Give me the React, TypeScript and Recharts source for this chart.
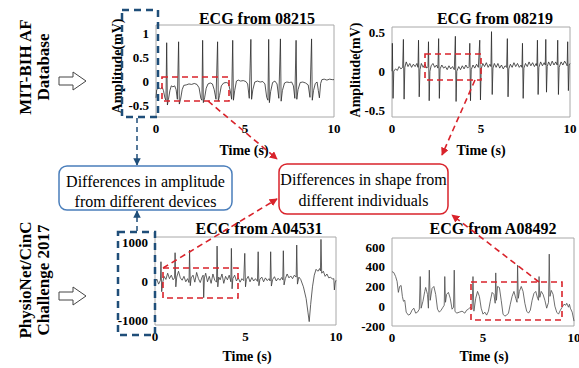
import { useMemo } from 'react';
import { LineChart, Line, XAxis, YAxis, ReferenceArea } from 'recharts';

const SERIF = '"Liberation Serif", "Times New Roman", serif';

const timeTicks = [0, 5, 10];
const ticks08215 = [-0.5, 0, 0.5, 1];
const ticks08219 = [-0.5, 0, 0.5];
const ticksA04531 = [-1000, 0, 1000];
const ticksA08492 = [-200, 0, 200, 400, 600];

// [time (s), amplitude]
const ecg08215: [number, number][] = [
  [0, -0.35], [0.04, -0.18], [0.15, -0.14], [0.25, -0.16], [0.35, -0.13], [0.42, -0.2], [0.5, -0.35], [0.56, -0.4],
  [0.6, 0.8], [0.64, -0.5], [0.7, -0.38], [0.78, -0.2], [0.86, -0.1], [0.95, -0.12], [1.05, -0.1], [1.13, -0.18],
  [1.2, -0.38], [1.27, 0.82], [1.31, -0.48], [1.38, -0.38], [1.47, -0.18], [1.56, -0.09], [1.7, -0.08], [1.85, -0.06],
  [2.0, -0.07], [2.15, -0.05], [2.3, -0.07], [2.42, -0.14], [2.52, -0.36], [2.58, -0.4], [2.62, 0.85], [2.66, -0.45],
  [2.73, -0.35], [2.82, -0.15], [2.92, -0.06], [3.05, -0.04], [3.17, -0.06], [3.27, -0.18], [3.37, -0.38], [3.46, 0.82],
  [3.5, -0.42], [3.57, -0.3], [3.67, -0.1], [3.8, -0.04], [3.95, -0.03], [4.07, -0.05], [4.17, -0.2], [4.25, -0.38],
  [4.31, 0.85], [4.35, -0.4], [4.42, -0.2], [4.52, 0.0], [4.62, 0.02], [4.75, 0.0], [4.9, 0.01], [5.05, -0.01],
  [5.15, -0.06], [5.24, -0.36], [5.33, 0.87], [5.37, -0.38], [5.44, -0.18], [5.55, -0.02], [5.7, 0.0], [5.85, -0.02],
  [6.0, -0.01], [6.12, -0.06], [6.22, -0.34], [6.29, -0.4], [6.33, 0.87], [6.37, -0.45], [6.44, -0.22], [6.55, -0.03],
  [6.68, 0.0], [6.8, -0.06], [6.9, -0.36], [6.99, 0.88], [7.03, -0.42], [7.1, -0.2], [7.22, -0.04], [7.35, -0.02],
  [7.5, -0.03], [7.62, -0.02], [7.72, -0.1], [7.8, -0.36], [7.87, 0.85], [7.91, -0.38], [7.98, -0.18], [8.1, -0.03],
  [8.25, -0.02], [8.4, -0.04], [8.55, -0.08], [8.65, -0.34], [8.74, 0.88], [8.78, -0.4], [8.85, -0.2], [8.95, -0.05],
  [9.05, -0.02], [9.12, -0.2], [9.18, -0.35], [9.25, -0.05], [9.32, 0.03], [9.45, 0.04], [9.6, 0.02], [9.75, 0.04],
  [9.9, 0.03], [10, 0.03],
];

const ecg08219: [number, number][] = [
  [0, 0.0], [0.02, 0.36], [0.06, -0.35], [0.1, 0.0], [0.2, 0.03], [0.3, 0.01], [0.4, 0.06], [0.5, 0.03], [0.6, 0.05],
  [0.64, 0.41], [0.68, -0.36], [0.72, 0.05], [0.8, 0.12], [0.9, 0.06], [1.0, 0.1], [1.1, 0.05], [1.2, 0.09], [1.3, 0.06],
  [1.4, 0.1], [1.46, 0.05], [1.49, 0.4], [1.53, -0.33], [1.57, 0.02], [1.65, 0.1], [1.75, 0.05], [1.85, 0.09],
  [1.95, 0.04], [2.02, 0.06], [2.05, 0.38], [2.09, -0.38], [2.13, 0.0], [2.2, 0.07], [2.3, 0.1], [2.4, 0.05],
  [2.5, 0.08], [2.58, 0.04], [2.62, 0.42], [2.66, -0.35], [2.7, 0.03], [2.8, 0.08], [2.9, 0.04], [3.0, 0.06],
  [3.1, 0.02], [3.2, 0.07], [3.3, 0.03], [3.4, 0.06], [3.5, 0.02], [3.56, 0.45], [3.6, -0.39], [3.64, 0.0],
  [3.75, 0.06], [3.85, 0.02], [3.95, 0.07], [4.05, 0.03], [4.15, 0.08], [4.25, 0.04], [4.33, 0.06], [4.37, 0.36],
  [4.41, -0.38], [4.45, 0.02], [4.55, 0.08], [4.65, 0.04], [4.75, 0.09], [4.85, 0.05], [4.93, 0.4], [4.97, -0.37],
  [5.01, 0.03], [5.1, 0.1], [5.2, 0.06], [5.3, 0.11], [5.4, 0.05], [5.5, 0.09], [5.56, 0.06], [5.59, 0.51],
  [5.63, -0.3], [5.67, 0.04], [5.75, 0.1], [5.85, 0.05], [5.95, 0.1], [6.05, 0.04], [6.15, 0.08], [6.25, 0.03],
  [6.35, 0.07], [6.44, 0.05], [6.48, 0.42], [6.52, -0.33], [6.56, 0.03], [6.65, 0.09], [6.75, 0.05], [6.85, 0.11],
  [6.95, 0.06], [7.05, 0.1], [7.15, 0.05], [7.25, 0.08], [7.3, 0.05], [7.33, 0.36], [7.37, -0.35], [7.41, 0.04],
  [7.5, 0.1], [7.6, 0.06], [7.7, 0.12], [7.8, 0.07], [7.9, 0.11], [8.0, 0.06], [8.1, 0.1], [8.14, 0.07], [8.17, 0.4],
  [8.21, -0.3], [8.25, 0.05], [8.35, 0.12], [8.45, 0.07], [8.55, 0.11], [8.61, 0.08], [8.64, 0.41], [8.68, -0.27],
  [8.72, 0.06], [8.8, 0.12], [8.9, 0.07], [9.0, 0.13], [9.1, 0.08], [9.2, 0.12], [9.28, 0.08], [9.31, 0.4],
  [9.35, -0.3], [9.39, 0.05], [9.5, 0.12], [9.6, 0.08], [9.7, 0.13], [9.8, 0.09], [9.84, 0.07], [9.87, 0.38],
  [9.91, -0.25], [9.95, 0.08], [10, 0.1],
];

const ecgA04531: [number, number][] = [
  [0, -30], [0.1, 50], [0.2, -80], [0.3, 20], [0.33, 495], [0.37, -274], [0.42, -50], [0.5, 120], [0.6, 40], [0.7, 200],
  [0.8, 60], [0.9, 150], [1.0, 30], [1.08, 80], [1.11, 726], [1.15, -150], [1.2, 100], [1.3, 250], [1.4, 80], [1.5, 20],
  [1.6, 120], [1.7, -20], [1.8, 60], [1.88, -40], [1.91, 795], [1.95, -120], [2.0, 80], [2.1, 150], [2.2, -30],
  [2.3, 220], [2.4, 60], [2.5, -40], [2.6, 100], [2.66, 150], [2.69, -428], [2.73, 80], [2.8, 200], [2.9, -20],
  [3.0, 120], [3.1, -60], [3.2, 180], [3.3, 20], [3.4, -30], [3.43, 897], [3.47, -150], [3.52, 100], [3.6, 30],
  [3.7, 180], [3.8, -60], [3.9, 120], [4.0, 30], [4.1, 150], [4.19, -20], [4.22, 838], [4.26, -200], [4.3, 60],
  [4.4, 150], [4.5, 0], [4.6, 80], [4.7, -30], [4.8, 60], [4.9, 10], [4.96, 710], [5.0, -150], [5.05, 40], [5.15, 120],
  [5.25, -20], [5.35, 90], [5.45, 0], [5.55, 60], [5.66, -10], [5.7, 751], [5.74, -120], [5.8, 50], [5.9, 100],
  [6.0, -20], [6.1, 80], [6.2, 10], [6.3, 60], [6.36, 0], [6.39, 751], [6.43, -130], [6.5, 40], [6.6, 110], [6.7, 0],
  [6.8, 70], [6.9, 20], [7.0, 90], [7.06, 30], [7.09, 777], [7.13, -100], [7.2, 60], [7.3, 180], [7.4, 80], [7.5, 130],
  [7.6, 60], [7.7, 150], [7.8, 100], [7.83, 923], [7.87, -80], [7.95, 100], [8.05, 40], [8.2, -150], [8.35, -450],
  [8.45, -800], [8.52, -1043], [8.6, -600], [8.7, -150], [8.8, 150], [8.9, 300], [9.0, 250], [9.1, 320], [9.14, 260],
  [9.17, 1069], [9.21, 200], [9.3, 250], [9.4, 120], [9.5, 180], [9.6, 80], [9.7, 100], [9.8, 50], [9.88, 60],
  [9.91, -230], [9.95, -50], [10, 20],
];

const ecgA08492: [number, number][] = [
  [0, 350], [0.1, 340], [0.2, 300], [0.28, 250], [0.35, 140], [0.42, 200], [0.5, 210], [0.57, 100], [0.63, 50],
  [0.7, 60], [0.78, -60], [0.9, -90], [1.0, -80], [1.1, -40], [1.2, -20], [1.3, -70], [1.4, -60], [1.5, -30],
  [1.55, 300], [1.6, -20], [1.7, 50], [1.8, 150], [1.85, 190], [1.95, 120], [2.0, -20], [2.05, 365], [2.1, 60],
  [2.2, 180], [2.3, 200], [2.4, 120], [2.5, -30], [2.6, -60], [2.7, -40], [2.8, -10], [2.87, 10], [2.9, 300],
  [2.94, 40], [3.0, 120], [3.1, 140], [3.2, 80], [3.3, -30], [3.38, -10], [3.42, 365], [3.46, -50], [3.55, -70],
  [3.7, -60], [3.85, -50], [4.0, -70], [4.1, -40], [4.2, -30], [4.3, -10], [4.4, -30], [4.45, 300], [4.5, -50],
  [4.6, 80], [4.7, 150], [4.8, 100], [4.9, -20], [5.0, -80], [5.1, -60], [5.2, -90], [5.3, -50], [5.4, 50],
  [5.5, 140], [5.6, 120], [5.67, 30], [5.7, 337], [5.74, 60], [5.8, 200], [5.9, 190], [6.0, 60], [6.1, -80],
  [6.2, -100], [6.3, -90], [6.4, -70], [6.5, 20], [6.6, 100], [6.7, 150], [6.8, 80], [6.87, 40], [6.9, 415],
  [6.94, 80], [7.0, 150], [7.1, 200], [7.2, 150], [7.3, 30], [7.4, -50], [7.5, -70], [7.6, -40], [7.7, 60],
  [7.8, 130], [7.9, 150], [8.0, 80], [8.05, 60], [8.08, 300], [8.12, 90], [8.2, 150], [8.3, 120], [8.4, 60],
  [8.5, -20], [8.6, 40], [8.64, 527], [8.68, 100], [8.75, 160], [8.85, 120], [8.95, 0], [9.05, -60], [9.15, -80],
  [9.25, -40], [9.35, -10], [9.45, 20], [9.55, 10], [9.6, 30], [9.7, -10], [9.75, 20], [9.8, -20], [9.9, -60],
  [10, -150],
];

const tickFont = { fontSize: 13, fontWeight: 'bold', fontFamily: SERIF, fill: '#000' };

interface PanelProps {
  data: [number, number][];
  box: { x: number; y: number; w: number; h: number };
  domain: [number, number];
  yTicks: number[];
  color: string;
}

function EcgPanel({ data, box, domain, yTicks, color }: PanelProps) {
  const rows = useMemo(() => data.map(([t, v]) => ({ t, v })), [data]);
  const yw = 48;
  const xh = 24;
  const pad = 4;
  const padR = 14;
  return (
    <div style={{ position: 'absolute', left: box.x - yw, top: box.y - pad }}>
      <LineChart
        width={yw + box.w + padR}
        height={pad + box.h + xh}
        data={rows}
        margin={{ top: pad, right: padR, bottom: 0, left: 0 }}
      >
        <XAxis
          dataKey="t"
          type="number"
          domain={[0, 10]}
          ticks={timeTicks}
          interval={0}
          height={xh}
          tickSize={0}
          tickMargin={7}
          axisLine={false}
          tick={tickFont}
        />
        <YAxis
          type="number"
          domain={domain}
          ticks={yTicks}
          interval={0}
          width={yw}
          allowDataOverflow
          tickSize={0}
          tickMargin={7}
          axisLine={false}
          tick={tickFont}
        />
        <ReferenceArea x1={0} x2={10} y1={domain[0]} y2={domain[1]} fill="none" stroke="#a8a8a8" strokeWidth={1} />
        <Line type="linear" dataKey="v" stroke={color} strokeWidth={0.8} dot={false} isAnimationActive={false} />
      </LineChart>
    </div>
  );
}

function Txt({ x, y, size, bold, rotate, children }: any) {
  return (
    <div
      style={{
        position: 'absolute',
        left: x,
        top: y,
        transform: `translate(-50%, -50%)${rotate ? ' rotate(-90deg)' : ''}`,
        fontFamily: SERIF,
        fontSize: size,
        fontWeight: bold ? 'bold' : 'normal',
        whiteSpace: 'nowrap',
        lineHeight: 1,
        color: '#000',
      }}
    >
      {children}
    </div>
  );
}

function HollowArrow({ x, y }: { x: number; y: number }) {
  const d = `M${x},${y - 4} L${x + 14},${y - 4} L${x + 14},${y - 9} L${x + 27},${y} L${x + 14},${y + 9} L${x + 14},${y + 4} L${x},${y + 4} Z`;
  return <path d={d} fill="#fff" stroke="#444" strokeWidth={1} />;
}

export default function App() {
  const red = '#d9232b';
  const blue = '#1f4e79';
  return (
    <div style={{ position: 'absolute', left: 0, top: 0, width: 579, height: 368, background: '#fff', overflow: 'hidden' }}>
      <EcgPanel data={ecg08215} box={{ x: 156, y: 25, w: 178, h: 92 }} domain={[-0.75, 1.17]} yTicks={ticks08215} color="#2a2a2a" />
      <EcgPanel data={ecg08219} box={{ x: 392, y: 27, w: 178, h: 90 }} domain={[-0.59, 0.57]} yTicks={ticks08219} color="#2a2a2a" />
      <EcgPanel data={ecgA04531} box={{ x: 155, y: 237, w: 181, h: 88 }} domain={[-1130, 1130]} yTicks={ticksA04531} color="#3a3a3a" />
      <EcgPanel data={ecgA08492} box={{ x: 392, y: 238, w: 182, h: 88 }} domain={[-200, 690]} yTicks={ticksA08492} color="#4a4a4a" />

      <Txt x={257} y={19} size={16} bold>ECG from 08215</Txt>
      <Txt x={495} y={19} size={16} bold>ECG from 08219</Txt>
      <Txt x={259} y={229} size={16} bold>ECG from A04531</Txt>
      <Txt x={493} y={229} size={16} bold>ECG from A08492</Txt>

      <Txt x={244} y={151} size={14} bold>Time (s)</Txt>
      <Txt x={481} y={151} size={14} bold>Time (s)</Txt>
      <Txt x={247} y={357} size={14} bold>Time (s)</Txt>
      <Txt x={484} y={357} size={14} bold>Time (s)</Txt>

      <Txt x={118} y={66} size={14} bold rotate>Amplitude(mV)</Txt>
      <Txt x={356} y={70} size={14} bold rotate>Amplitude(mV)</Txt>

      <Txt x={25} y={67} size={17} bold rotate>MIT-BIH AF</Txt>
      <Txt x={43} y={67} size={17} bold rotate>Database</Txt>
      <Txt x={25} y={280} size={17} bold rotate>PhysioNet/CinC</Txt>
      <Txt x={43} y={280} size={17} bold rotate>Challenge 2017</Txt>

      <svg width={579} height={368} style={{ position: 'absolute', left: 0, top: 0, pointerEvents: 'none' }}>
        <defs>
          <marker id="redHead" viewBox="0 0 10 10" refX="9" refY="5" markerWidth="5" markerHeight="5" orient="auto">
            <path d="M0,0 L10,5 L0,10 Z" fill={red} />
          </marker>
          <marker id="blueHead" viewBox="0 0 10 10" refX="9" refY="5" markerWidth="5" markerHeight="5" orient="auto">
            <path d="M0,0 L10,5 L0,10 Z" fill={blue} />
          </marker>
        </defs>

        <HollowArrow x={59} y={81} />
        <HollowArrow x={59} y={296} />

        {/* amplitude boxes + link */}
        <rect x={122} y={10} width={36} height={107} fill="none" stroke={blue} strokeWidth={2.5} strokeDasharray="7 5" />
        <rect x={118} y={232} width={37} height={103} fill="none" stroke={blue} strokeWidth={2.5} strokeDasharray="7 5" />
        <line x1={137} y1={118} x2={137} y2={165} stroke={blue} strokeWidth={1.5} strokeDasharray="5 4" markerEnd="url(#blueHead)" />
        <line x1={137} y1={231} x2={137} y2={211} stroke={blue} strokeWidth={1.5} strokeDasharray="5 4" markerEnd="url(#blueHead)" />

        {/* shape boxes + links */}
        <rect x={162} y={77} width={67} height={24} fill="none" stroke={red} strokeWidth={1.6} strokeDasharray="6 4" />
        <rect x={425} y={54} width={56} height={26} fill="none" stroke={red} strokeWidth={1.6} strokeDasharray="6 4" />
        <rect x={163} y={268} width={75} height={30} fill="none" stroke={red} strokeWidth={1.6} strokeDasharray="6 4" />
        <rect x={471} y={282} width={91} height={38} fill="none" stroke={red} strokeWidth={1.6} strokeDasharray="6 4" />
        <line x1={208} y1={101} x2={277} y2={159} stroke={red} strokeWidth={1.6} strokeDasharray="6 4" markerEnd="url(#redHead)" />
        <line x1={475} y1={80} x2={442} y2={155} stroke={red} strokeWidth={1.6} strokeDasharray="6 4" markerEnd="url(#redHead)" />
        <line x1={163} y1={268} x2={277} y2={199} stroke={red} strokeWidth={1.6} strokeDasharray="6 4" markerEnd="url(#redHead)" />
        <line x1={539} y1={282} x2={452} y2={215} stroke={red} strokeWidth={1.6} strokeDasharray="6 4" markerEnd="url(#redHead)" />

        <rect x={59} y={166} width={173} height={44} rx={8} fill="#fff" stroke="#4a7ebb" strokeWidth={1.5} />
        <text x={145.5} y={181} textAnchor="middle" dominantBaseline="central" fontFamily={SERIF} fontSize={16}>Differences in amplitude</text>
        <text x={145.5} y={201} textAnchor="middle" dominantBaseline="central" fontFamily={SERIF} fontSize={16}>from different devices</text>

        <rect x={279} y={164} width={169} height={50} rx={8} fill="#fff" stroke={red} strokeWidth={1.5} />
        <text x={363.5} y={179} textAnchor="middle" dominantBaseline="central" fontFamily={SERIF} fontSize={16}>Differences in shape from</text>
        <text x={363.5} y={200} textAnchor="middle" dominantBaseline="central" fontFamily={SERIF} fontSize={16}>different individuals</text>
      </svg>
    </div>
  );
}
